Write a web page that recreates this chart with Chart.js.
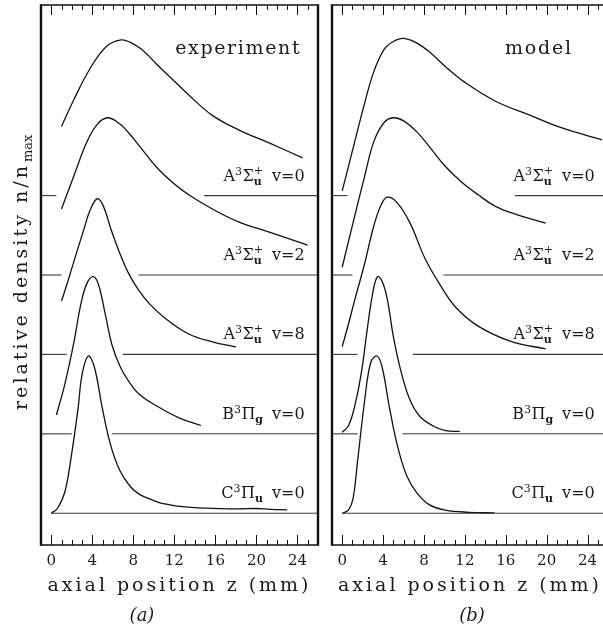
<!DOCTYPE html>
<html>
<head>
<meta charset="utf-8">
<script src="https://cdn.jsdelivr.net/npm/chart.js@4.4.0/dist/chart.umd.min.js"></script>
<style>
  html, body { margin: 0; padding: 0; background: #fff; overflow: hidden; width: 603px; height: 629px; }
  #wrapA { position: absolute; left: 0; top: 0; width: 325px; height: 629px; }
  #wrapB { position: absolute; left: 325px; top: 0; width: 290px; height: 629px; }
</style>
</head>
<body>
<div id="wrapA"><canvas id="chartA" width="325" height="629"></canvas></div>
<div id="wrapB"><canvas id="chartB" width="290" height="629"></canvas></div>
<script>
// ---- data: [z (mm), n/nmax] ----
const expA0 = [[1.0,0.44],[2.2,0.61],[3.8,0.81],[5.4,0.95],[6.8,0.99],[7.7,0.975],[8.6,0.94],[9.4,0.895],[10.2,0.84],[11.8,0.74],[13.4,0.64],[15.7,0.51],[18.2,0.42],[21.4,0.33],[24.5,0.24]];
const expA2 = [[1.0,0.42],[2.2,0.63],[3.5,0.85],[4.5,0.96],[5.5,1.0],[6.7,0.96],[7.6,0.90],[8.6,0.82],[10.2,0.69],[11.8,0.59],[13.4,0.51],[15.7,0.42],[18.2,0.34],[21.4,0.27],[25.0,0.19]];
const expA8 = [[1.0,0.34],[1.5,0.44],[2.2,0.59],[3.2,0.80],[3.8,0.92],[4.5,0.99],[5.1,0.94],[5.8,0.80],[6.7,0.64],[7.5,0.52],[8.5,0.41],[9.6,0.32],[11.1,0.23],[13.4,0.13],[15.7,0.08],[18.0,0.048]];
const expB  = [[0.5,0.12],[1.3,0.31],[2.2,0.58],[2.9,0.83],[3.5,0.96],[4.1,1.0],[4.6,0.95],[5.3,0.75],[5.9,0.57],[6.7,0.43],[7.7,0.32],[8.6,0.25],[10.2,0.18],[12.5,0.10],[14.6,0.053]];
const expC  = [[0.0,0.0],[0.6,0.03],[1.3,0.13],[1.9,0.34],[2.6,0.66],[3.0,0.88],[3.6,1.0],[4.2,0.93],[5.0,0.66],[5.8,0.43],[6.7,0.27],[7.7,0.17],[8.6,0.12],[9.9,0.083],[10.6,0.066],[11.2,0.058],[12.5,0.044],[15.0,0.033],[18.2,0.028],[20.0,0.030],[21.4,0.025],[23.0,0.022]];

const modA0 = [[0.0,0.03],[0.9,0.26],[2.2,0.59],[3.1,0.79],[4.1,0.93],[5.0,0.98],[6.0,1.0],[7.3,0.97],[8.6,0.91],[10.1,0.82],[12.0,0.72],[15.0,0.60],[18.4,0.51],[21.5,0.43],[25.4,0.355]];
const modA2 = [[0.0,0.05],[0.9,0.29],[2.2,0.63],[3.1,0.85],[4.1,0.97],[5.0,1.0],[6.0,0.98],[7.3,0.91],[8.6,0.81],[10.1,0.69],[11.7,0.59],[13.3,0.51],[14.9,0.44],[16.8,0.39],[19.9,0.33]];
const modA8 = [[0.0,0.05],[0.6,0.19],[1.2,0.34],[2.2,0.58],[3.1,0.82],[3.8,0.95],[4.4,1.0],[5.3,0.97],[6.6,0.84],[8.1,0.61],[9.5,0.45],[11.1,0.30],[13.3,0.18],[16.5,0.083],[19.9,0.035]];
const modB  = [[0.0,0.01],[0.6,0.05],[1.2,0.17],[1.85,0.38],[2.5,0.69],[3.0,0.90],[3.45,1.0],[3.9,0.97],[4.4,0.86],[5.0,0.62],[5.7,0.41],[6.6,0.22],[7.6,0.11],[8.9,0.05],[10.1,0.02],[11.5,0.015]];
const modC  = [[0.0,0.0],[0.6,0.02],[1.05,0.09],[1.5,0.33],[2.2,0.72],[2.8,0.96],[3.4,1.0],[3.9,0.93],[4.6,0.68],[5.4,0.43],[6.3,0.24],[7.3,0.13],[8.5,0.055],[10.1,0.02],[12.4,0.006],[14.9,0.002]];

// states, top to bottom
const termLetter = ["A", "A", "A", "B", "C"];
const termSymbol = ["\u03A3", "\u03A3", "\u03A3", "\u03A0", "\u03A0"];
const termSub    = ["u", "u", "u", "g", "u"];
const termSup    = ["+", "+", "+", "", ""];
const vibLevel   = ["v=0", "v=2", "v=8", "v=0", "v=0"];
const stackLevel = [4, 3, 2, 1, 0];   // baseline of each trace, in trace spacings

// baseline gaps [end of left piece, start of right piece] (mm), C line is unbroken
const gapsExp = [[0.5,14.9],[1.0,8.5],[1.5,7.0],[2.0,5.9]];
const gapsMod = [[0.5,16.9],[1.0,9.9],[1.5,6.9],[1.5,5.9]];

const xTicks = [0, 4, 8, 12, 16, 20, 24];
const PEAK = 1.98;          // height of a normalised peak, in trace spacings
const SERIF = "'DejaVu Serif', serif";

function buildDatasets(curves, gaps) {
  const sets = [];
  // baselines
  stackLevel.forEach((lv, i) => {
    const pieces = i < gaps.length
      ? [[-1, gaps[i][0]], [gaps[i][1], 26]]
      : [[0, 26]];
    pieces.forEach(([a, b]) => {
      sets.push({
        data: [{ x: a, y: lv }, { x: b, y: lv }],
        borderColor: "#3a3a3a", borderWidth: 1.1, pointRadius: 0, tension: 0
      });
    });
  });
  // traces
  curves.forEach((pts, i) => {
    sets.push({
      data: pts.map(([z, n]) => ({ x: z, y: stackLevel[i] + PEAK * n })),
      borderColor: "#111", borderWidth: 1.3, pointRadius: 0,
      tension: 0.4
    });
  });
  return sets;
}

function fitSpacing(ctx, text, target) {
  ctx.letterSpacing = "0px";
  const w = ctx.measureText(text).width;
  const ls = Math.max(0, (target - w) / text.length);
  ctx.letterSpacing = ls + "px";
  return ls;
}

function drawTerm(ctx, xRight, yBase, i) {
  const big = "16px " + SERIF, small = "11px " + SERIF, smallB = "bold 11px " + SERIF;
  ctx.letterSpacing = "0px";
  ctx.font = big;
  const wA = ctx.measureText(termLetter[i]).width;
  const wS = ctx.measureText(termSymbol[i]).width;
  const wV = ctx.measureText(vibLevel[i]).width;
  ctx.font = small;
  const w3 = ctx.measureText("3").width + 0.5;
  const wSup = termSup[i] ? ctx.measureText(termSup[i]).width : 0;
  ctx.font = smallB;
  const wSub = ctx.measureText(termSub[i]).width;
  const wStack = Math.max(wSup, wSub);
  const gap = 9;
  let x = xRight - (wA + w3 + wS + wStack + gap + wV);

  ctx.textAlign = "left";
  ctx.font = big;
  ctx.fillText(termLetter[i], x, yBase); x += wA;
  ctx.font = small;
  ctx.fillText("3", x, yBase - 6); x += w3;
  ctx.font = big;
  ctx.fillText(termSymbol[i], x, yBase); x += wS;
  ctx.font = small;
  if (termSup[i]) ctx.fillText(termSup[i], x, yBase - 7);
  ctx.font = smallB;
  ctx.fillText(termSub[i], x, yBase + 4); x += wStack + gap;
  ctx.font = big;
  ctx.fillText(vibLevel[i], x, yBase);
}

// frame, inward ticks and all figure text
const decor = {
  id: "decor",
  afterDraw(chart, args, opts) {
    const ctx = chart.ctx;
    const xs = chart.scales.x, ys = chart.scales.y;
    const { left, right, top, bottom } = chart.chartArea;
    ctx.save();
    ctx.strokeStyle = "#111";
    ctx.fillStyle = "#1a1a1a";

    // ticks
    ctx.lineWidth = 1;
    for (let v = 0; v <= 25; v++) {
      const px = Math.round(xs.getPixelForValue(v)) + 0.5;
      const len = v % 4 === 0 ? 10 : 5;
      ctx.beginPath();
      ctx.moveTo(px, bottom); ctx.lineTo(px, bottom - len);
      ctx.moveTo(px, top); ctx.lineTo(px, top + len);
      ctx.stroke();
    }
    // frame
    ctx.lineWidth = 1.6;
    ctx.beginPath();
    ctx.moveTo(left, top); ctx.lineTo(right, top);
    ctx.moveTo(left, bottom); ctx.lineTo(right, bottom);
    ctx.stroke();
    ctx.lineWidth = 2.4;
    ctx.beginPath();
    ctx.moveTo(left, top - 0.8); ctx.lineTo(left, bottom + 0.8);
    ctx.moveTo(right, top - 0.8); ctx.lineTo(right, bottom + 0.8);
    ctx.stroke();

    // panel title
    ctx.textBaseline = "alphabetic";
    ctx.font = "19px " + SERIF;
    ctx.textAlign = "right";
    const ls = fitSpacing(ctx, opts.title, opts.titleWidth);
    ctx.fillText(opts.title, xs.getPixelForValue(opts.titleZ) + ls, 54);

    // trace labels
    stackLevel.forEach((lv, i) => {
      drawTerm(ctx, xs.getPixelForValue(24.7), ys.getPixelForValue(lv) - 15, i);
    });

    // x axis title
    ctx.font = "19px " + SERIF;
    ctx.textAlign = "left";
    const xt = "axial position z (mm)";
    fitSpacing(ctx, xt, 264);
    ctx.fillText(xt, (left + right) / 2 - 132, 591);

    // panel letter
    ctx.letterSpacing = "0px";
    ctx.font = "italic 18px " + SERIF;
    ctx.textAlign = "center";
    ctx.fillText(opts.letter, opts.letterX, 621);

    // y axis title (left panel only)
    if (opts.yTitle) {
      ctx.translate(27, 410);
      ctx.rotate(-Math.PI / 2);
      ctx.textAlign = "left";
      ctx.font = "19px " + SERIF;
      const yt = "relative density n/n";
      fitSpacing(ctx, yt, 247);
      ctx.fillText(yt, 0, 0);
      ctx.letterSpacing = "0px";
      ctx.font = "13px " + SERIF;
      ctx.fillText("max", 248, 5);
    }
    ctx.restore();
  }
};

function makeChart(id, curves, gaps, pad, decorOpts) {
  return new Chart(document.getElementById(id), {
    type: "line",
    data: { datasets: buildDatasets(curves, gaps) },
    options: {
      responsive: false,
      animation: false,
      devicePixelRatio: 1,
      events: [],
      layout: { padding: pad },
      plugins: { legend: { display: false }, tooltip: { enabled: false }, decor: decorOpts },
      scales: {
        x: {
          type: "linear", min: -1, max: 26,
          grid: { display: false, drawTicks: false },
          border: { display: false },
          ticks: {
            stepSize: 1, autoSkip: false, maxRotation: 0, padding: 7,
            color: "#1a1a1a",
            font: { family: SERIF, size: 15 },
            callback: (v) => xTicks.includes(v) ? String(v) : ""
          },
          afterFit: (s) => { s.height = 84; }
        },
        y: { type: "linear", display: false, min: -0.4, max: 6.4 }
      }
    },
    plugins: [decor]
  });
}

makeChart("chartA", [expA0, expA2, expA8, expB, expC], gapsExp,
  { left: 41, right: 3, top: 5, bottom: 0 },
  { title: "experiment", titleZ: 24.2, titleWidth: 126, letter: "(a)", letterX: 142, yTitle: true });

makeChart("chartB", [modA0, modA2, modA8, modB, modC], gapsMod,
  { left: 2, right: 6, top: 5, bottom: 0 },
  { title: "model", titleZ: 22.4, titleWidth: 68, letter: "(b)", letterX: 472 - 325, yTitle: false });
</script>
</body>
</html>
